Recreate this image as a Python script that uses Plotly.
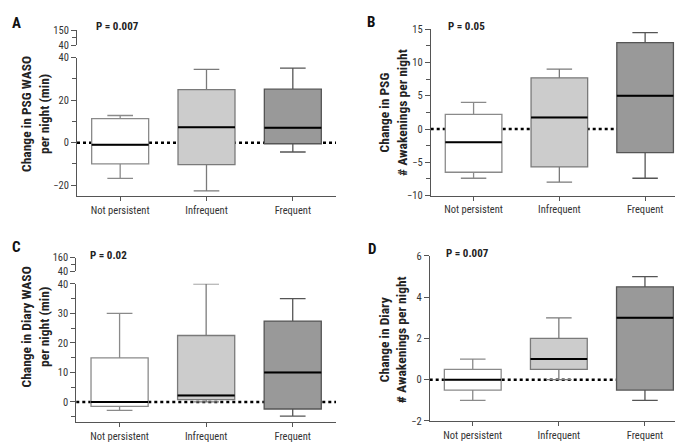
import plotly.graph_objects as go

categories = ["Not persistent", "Infrequent", "Frequent"]
fills = ["#ffffff", "#cccccc", "#999999"]
edges = ["#8a8a8a", "#7a7a7a", "#555555"]

# Panel A: Change in PSG WASO per night (min)
a_low = [-16.8, -22.7, -4.4]
a_q1 = [-10.0, -10.3, -0.5]
a_med = [-1.0, 7.2, 7.0]
a_q3 = [11.3, 25.0, 25.2]
a_high = [12.8, 34.5, 35.1]

# Panel B: Change in PSG # awakenings per night
b_low = [-7.4, -8.0, -7.4]
b_q1 = [-6.5, -5.7, -3.55]
b_med = [-2.0, 1.75, 5.0]
b_q3 = [2.2, 7.7, 13.0]
b_high = [4.0, 9.0, 14.5]

# Panel C: Change in Diary WASO per night (min)
c_low = [-2.9, 0.0, -4.8]
c_q1 = [-1.5, 0.8, -2.4]
c_med = [0.0, 2.2, 10.0]
c_q3 = [14.9, 22.5, 27.4]
c_high = [30.0, 40.0, 35.0]

# Panel D: Change in Diary # awakenings per night
d_low = [-1.0, 0.0, -1.0]
d_q1 = [-0.5, 0.5, -0.5]
d_med = [0.0, 1.0, 3.0]
d_q3 = [0.5, 2.0, 4.5]
d_high = [1.0, 3.0, 5.0]

p_values = ["P = 0.007", "P = 0.05", "P = 0.02", "P = 0.007"]
panel_letters = ["A", "B", "C", "D"]
y_titles = ["Change in PSG WASO<br>per night (min)",
            "Change in PSG<br># Awakenings per night",
            "Change in Diary WASO<br>per night (min)",
            "Change in Diary<br># Awakenings per night"]

FONT = "Roboto Condensed, Archivo Narrow, DejaVu Sans Condensed, sans-serif"
BOX_W = 0.66

fig = go.Figure()

panels = [
    (a_low, a_q1, a_med, a_q3, a_high),
    (b_low, b_q1, b_med, b_q3, b_high),
    (c_low, c_q1, c_med, c_q3, c_high),
    (d_low, d_q1, d_med, d_q3, d_high),
]

shapes = []
for p, (lo, q1, med, q3, hi) in enumerate(panels):
    xa = "x" if p == 0 else f"x{p+1}"
    ya = "y" if p == 0 else f"y{p+1}"
    # dotted zero reference line, below the boxes
    shapes.append(dict(type="line", xref=f"{xa} domain", x0=0, x1=1, yref=ya, y0=0, y1=0,
                       layer="below", line=dict(color="black", width=2.5, dash="dot")))
    for i in range(3):
        fig.add_trace(go.Box(x=[i], q1=[q1[i]], median=[med[i]], q3=[q3[i]],
                             lowerfence=[lo[i]], upperfence=[hi[i]],
                             width=BOX_W, whiskerwidth=0.45,
                             fillcolor=fills[i], line=dict(color=edges[i], width=1.3),
                             xaxis=xa, yaxis=ya, showlegend=False, hoverinfo="skip"))
        fig.add_trace(go.Scatter(x=[i - BOX_W / 2, i + BOX_W / 2], y=[med[i], med[i]],
                                 mode="lines", line=dict(color="black", width=2),
                                 xaxis=xa, yaxis=ya, showlegend=False, hoverinfo="skip"))

# invisible traces for broken-axis top segments
fig.add_trace(go.Scatter(x=[None], y=[None], xaxis="x5", yaxis="y5", showlegend=False))
fig.add_trace(go.Scatter(x=[None], y=[None], xaxis="x6", yaxis="y6", showlegend=False))

W, H = 683, 443
def px(v):
    return v / W
def py(v):
    return 1 - v / H

tickfont = dict(family=FONT, size=10.5, color="#333333")
axis_common = dict(showline=True, linecolor="#555555", linewidth=1, ticks="outside",
                   tickcolor="#555555", ticklen=5, tickfont=tickfont, showgrid=False,
                   zeroline=False, fixedrange=True)

x_domains = [(px(69), px(328)), (px(422.7), px(680)), (px(68.3), px(328)), (px(421.7), px(680))]
y_domains = [(py(187.7), py(45)), (py(187), py(15.7)), (py(420.3), py(278)), (py(419.3), py(249))]
y_ranges = [[-25.2, 40.01], [-10, 15.01], [-6.8, 40.01], [-2, 6.01]]
y_tickvals = [[-20, 0, 20, 40], [-10, -5, 0, 5, 10, 15], [0, 10, 20, 30, 40], [-2, 0, 2, 4, 6]]
y_minor = [dict(ticks="outside", dtick=10, tick0=0, ticklen=4, tickcolor="#555555"),
           dict(ticks="outside", dtick=2.5, tick0=0, ticklen=4, tickcolor="#555555"),
           dict(ticks="outside", dtick=5, tick0=0, ticklen=4, tickcolor="#555555"),
           None]

layout = dict(width=W, height=H, margin=dict(l=0, r=0, t=0, b=0),
              plot_bgcolor="white", paper_bgcolor="white", showlegend=False,
              font=dict(family=FONT, color="#222222"))

for p in range(4):
    xk = "xaxis" if p == 0 else f"xaxis{p+1}"
    yk = "yaxis" if p == 0 else f"yaxis{p+1}"
    ya = "y" if p == 0 else f"y{p+1}"
    xa = "x" if p == 0 else f"x{p+1}"
    layout[xk] = dict(axis_common, domain=list(x_domains[p]), range=[-0.5, 2.5],
                      tickvals=[0, 1, 2], ticktext=categories, anchor=ya, ticklen=4)
    yd = dict(axis_common, domain=list(y_domains[p]), range=y_ranges[p],
              tickvals=y_tickvals[p], anchor=xa)
    if y_minor[p]:
        yd["minor"] = y_minor[p]
    layout[yk] = yd

# broken-axis segments (A and C)
layout["xaxis5"] = dict(domain=list(x_domains[0]), range=[-0.5, 2.5], visible=False, anchor="y5")
layout["yaxis5"] = dict(axis_common, domain=[py(32.3), py(16.7)], range=[40, 150.5],
                        tickvals=[40, 150], anchor="x5",
                        minor=dict(ticks="outside", tickvals=[95], ticklen=4, tickcolor="#555555"))
layout["xaxis6"] = dict(domain=list(x_domains[2]), range=[-0.5, 2.5], visible=False, anchor="y6")
layout["yaxis6"] = dict(axis_common, domain=[py(265), py(251)], range=[40, 160.5],
                        tickvals=[40, 160], anchor="x6",
                        minor=dict(ticks="outside", tickvals=[100], ticklen=4, tickcolor="#555555"))

annotations = []
letter_pos = [(8, 9), (363, 8), (8, 240), (364, 242)]
for p in range(4):
    annotations.append(dict(text=f"<b>{panel_letters[p]}</b>", x=px(letter_pos[p][0]), y=py(letter_pos[p][1]),
                            xref="paper", yref="paper", xanchor="center", yanchor="middle",
                            showarrow=False, font=dict(family=FONT, size=15, color="#111111")))
p_pos = [(109, 13), (458, 13), (100, 248.5), (459, 247)]
for p in range(4):
    annotations.append(dict(text=f"<b>{p_values[p]}</b>", x=px(p_pos[p][0]), y=py(p_pos[p][1]),
                            xref="paper", yref="paper", xanchor="center", yanchor="middle",
                            showarrow=False, font=dict(family=FONT, size=11, color="#222222")))
t_pos = [(27, 103), (385, 102), (27, 323), (385, 336)]
for p in range(4):
    annotations.append(dict(text=f"<b>{y_titles[p]}</b>", x=px(t_pos[p][0]), y=py(t_pos[p][1]),
                            xref="paper", yref="paper", xanchor="center", yanchor="middle",
                            textangle=-90, showarrow=False,
                            font=dict(family=FONT, size=13.5, color="#222222")))
layout["annotations"] = annotations
layout["shapes"] = shapes

fig.update_layout(**layout)
fig.write_html("out.html")
